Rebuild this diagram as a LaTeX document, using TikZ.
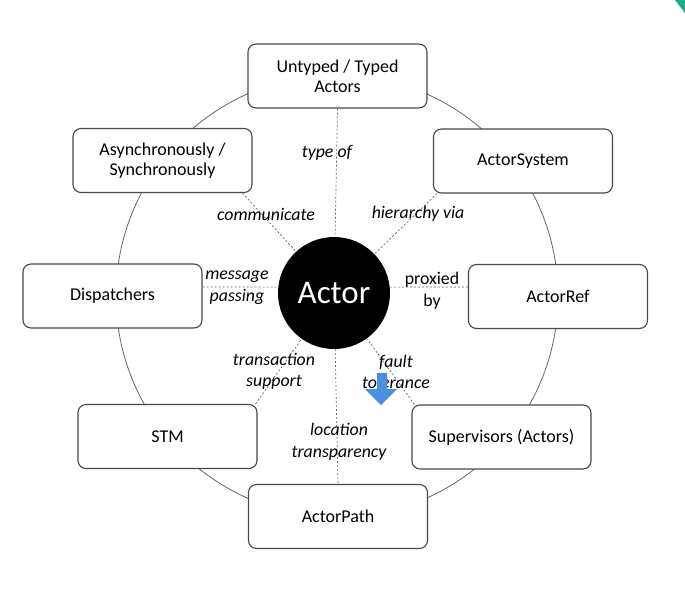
\documentclass[tikz,border=0pt]{standalone}
\usepackage{fontspec}
\setmainfont{Carlito}
\definecolor{arrowblue}{RGB}{74,144,226}
\definecolor{cornerteal}{RGB}{26,170,140}
\begin{document}
\begin{tikzpicture}[x=1pt,y=-1pt,
  box/.style={draw=black!72, line width=1.1pt, fill=white, rounded corners=8pt,
    minimum width=179pt, minimum height=64pt, align=center, inner sep=0pt,
    font=\fontsize{18}{20}\selectfont},
  conn/.style={draw=black!60, dash pattern=on 2pt off 2pt, line width=0.7pt},
  lab/.style={font=\fontsize{17.8}{21.5}\selectfont\itshape, align=center, inner sep=0pt},
  labup/.style={font=\fontsize{17.8}{21.5}\selectfont, align=center, inner sep=0pt},
  ring/.style={draw=black!60, line width=0.8pt}
]
\useasboundingbox (0,0) rectangle (685,589);
\fill[white] (0,0) rectangle (685,589);
\fill[cornerteal] (675,0) -- (685,0) -- (685,13) -- cycle;

\draw[ring] (337,296) circle[radius=221];

\node[box] (untyped) at (337.5,76) {Untyped / Typed\\Actors};
\node[box] (async) at (162.5,160.5) {Asynchronously /\\Synchronously};
\node[box] (sys) at (523,161) {ActorSystem};
\node[box] (disp) at (112.5,296) {Dispatchers};
\node[box] (ref) at (558,296.5) {ActorRef};
\node[box] (stm) at (167.5,436.5) {STM};
\node[box] (sup) at (501.5,437) {Supervisors (Actors)};
\node[box] (path) at (338,516.5) {ActorPath};

\node[circle, fill=black, minimum size=112pt, inner sep=0pt, text=white,
  font=\fontsize{33}{33}\selectfont] (actor) at (334,293) {Actor};

\draw[conn] (untyped.south) -- (actor);
\draw[conn] (actor) -- (path.north);
\draw[conn] ([yshift=9pt]disp.east) -- (actor.174);
\draw[conn] ([yshift=9.5pt]ref.west) -- (actor.6);
\draw[conn] ([xshift=-10pt]async.south east) -- (actor);
\draw[conn] ([xshift=4pt]sys.south west) -- (actor);
\draw[conn] ([xshift=-2pt]stm.north east) -- (actor);
\draw[conn] ([xshift=3pt]sup.north west) -- (actor);

\node[lab] (l1) at (327,153) {type of};
\node[lab] (l2) at (266,214) {communicate};
\node[lab] (l3) at (418,214) {hierarchy via};
\node[lab] (l4) at (237,287.5) {message\\passing};
\node[labup] (l5) at (432,291) {proxied\\by};
\node[lab] (l6) at (274,371.5) {transaction\\support};
\node[lab] (l7) at (396,372) {fault\\tolerance};
\node[lab] (l8) at (339,441.5) {location\\transparency};

\fill[arrowblue] (377,373) -- (387,373) -- (387,389) -- (397,389)
  -- (381,405) -- (365,389) -- (377,389) -- cycle;
\end{tikzpicture}
\end{document}
